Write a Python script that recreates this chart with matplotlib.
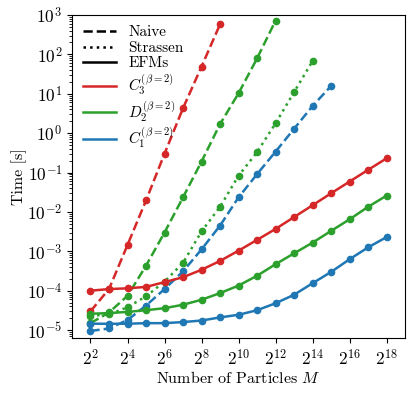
import numpy as np
import matplotlib
matplotlib.use("Agg")
import matplotlib.pyplot as plt
from matplotlib.lines import Line2D
from matplotlib.ticker import LogFormatterSciNotation

plt.rcParams['font.family'] = 'serif'
plt.rcParams['font.serif'] = ['cmr10', 'DejaVu Serif']
plt.rcParams['mathtext.fontset'] = 'cm'
plt.rcParams['axes.formatter.use_mathtext'] = True
plt.rcParams['axes.unicode_minus'] = False
plt.rcParams['font.size'] = 11

# exponents of M = 2^k
c3_naive_k = [2, 3, 4, 5, 6, 7, 8, 9]
c3_naive = [3.0e-5, 1.1e-4, 1.45e-3, 1.95e-2, 0.30, 4.3, 49, 580]

d2_naive_k = [2, 3, 4, 5, 6, 7, 8, 9, 10, 11, 12]
d2_naive = [1.5e-5, 2.8e-5, 7.4e-5, 4.3e-4, 3.0e-3, 2.35e-2, 0.19, 1.7, 10.3, 79, 720]

d2_strassen_k = [2, 3, 4, 5, 6, 7, 8, 9, 10, 11, 12, 13, 14]
d2_strassen = [2.3e-5, 2.5e-5, 3.8e-5, 7.2e-5, 1.7e-4, 5.1e-4, 3.2e-3, 1.35e-2, 8.3e-2, 0.33, 1.78, 11, 68]

c1_naive_k = [2, 3, 4, 5, 6, 7, 8, 9, 10, 11, 12, 13, 14, 15]
c1_naive = [9.5e-6, 1.1e-5, 1.8e-5, 4.2e-5, 1.1e-4, 3.1e-4, 1.12e-3, 4.5e-3, 2.35e-2, 9.1e-2, 0.34, 1.29, 4.9, 15.8]

efm_k = list(range(2, 19))
c3_efm = [1.0e-4, 1.1e-4, 1.15e-4, 1.25e-4, 1.65e-4, 2.2e-4, 3.4e-4, 5.7e-4, 1.04e-3,
          1.95e-3, 3.7e-3, 7.4e-3, 1.48e-2, 2.97e-2, 5.9e-2, 0.117, 0.23]
d2_efm = [2.6e-5, 2.7e-5, 2.9e-5, 3.2e-5, 3.6e-5, 4.4e-5, 5.9e-5, 8.7e-5, 1.35e-4,
          2.4e-4, 4.7e-4, 8.9e-4, 1.66e-3, 3.3e-3, 6.5e-3, 1.35e-2, 2.6e-2]
c1_efm = [1.45e-5, 1.45e-5, 1.45e-5, 1.5e-5, 1.5e-5, 1.6e-5, 1.75e-5, 2.1e-5, 2.45e-5,
          3.2e-5, 4.8e-5, 7.9e-5, 1.55e-4, 3.0e-4, 6.3e-4, 1.26e-3, 2.3e-3]

red, green, blue = '#d62728', '#2ca02c', '#1f77b4'
lw, ms = 1.8, 4.5

fig = plt.figure(figsize=(4.16, 3.93), dpi=100)
ax = fig.add_axes([0.173, 0.140, 0.801, 0.822])

def M(k):
    return 2.0 ** np.array(k)

ax.plot(M(c3_naive_k), c3_naive, '--o', color=red, lw=lw, ms=ms)
ax.plot(M(d2_naive_k), d2_naive, '--o', color=green, lw=lw, ms=ms)
ax.plot(M(c1_naive_k), c1_naive, '--o', color=blue, lw=lw, ms=ms)
ax.plot(M(d2_strassen_k), d2_strassen, ':o', color=green, lw=lw, ms=ms)
ax.plot(M(efm_k), c3_efm, '-o', color=red, lw=lw, ms=ms)
ax.plot(M(efm_k), d2_efm, '-o', color=green, lw=lw, ms=ms)
ax.plot(M(efm_k), c1_efm, '-o', color=blue, lw=lw, ms=ms)

ax.set_xscale('log', base=2)
ax.set_yscale('log')
ax.set_xlim(2 ** 1, 2 ** 19)
ax.set_ylim(10 ** -5.2, 1e3)
ax.set_xticks(2.0 ** np.arange(2, 19, 2))
ax.xaxis.set_major_formatter(LogFormatterSciNotation(base=2))
ax.xaxis.set_minor_locator(matplotlib.ticker.NullLocator())
ax.tick_params(axis='both', which='major', labelsize=12.5)

ax.set_xlabel('Number of Particles $M$', fontsize=11.5)
ax.set_ylabel('Time [s]', fontsize=11.5)
ax.xaxis.set_label_coords(0.5, -0.10)
ax.yaxis.set_label_coords(-0.135, 0.5)

handles = [
    Line2D([], [], color='black', ls='--', lw=lw),
    Line2D([], [], color='black', ls=':', lw=lw),
    Line2D([], [], color='black', ls='-', lw=lw),
    Line2D([], [], color=red, lw=lw),
    Line2D([], [], color=green, lw=lw),
    Line2D([], [], color=blue, lw=lw),
]
labels = ['Naive', 'Strassen', 'EFMs',
          r'$C_3^{(\beta=2)}$', r'$D_2^{(\beta=2)}$', r'$C_1^{(\beta=2)}$']
ax.legend(handles, labels, loc='upper left', frameon=False,
          borderaxespad=0.3, labelspacing=0.12, handlelength=2.2)

fig.savefig('out.png', dpi=100)
